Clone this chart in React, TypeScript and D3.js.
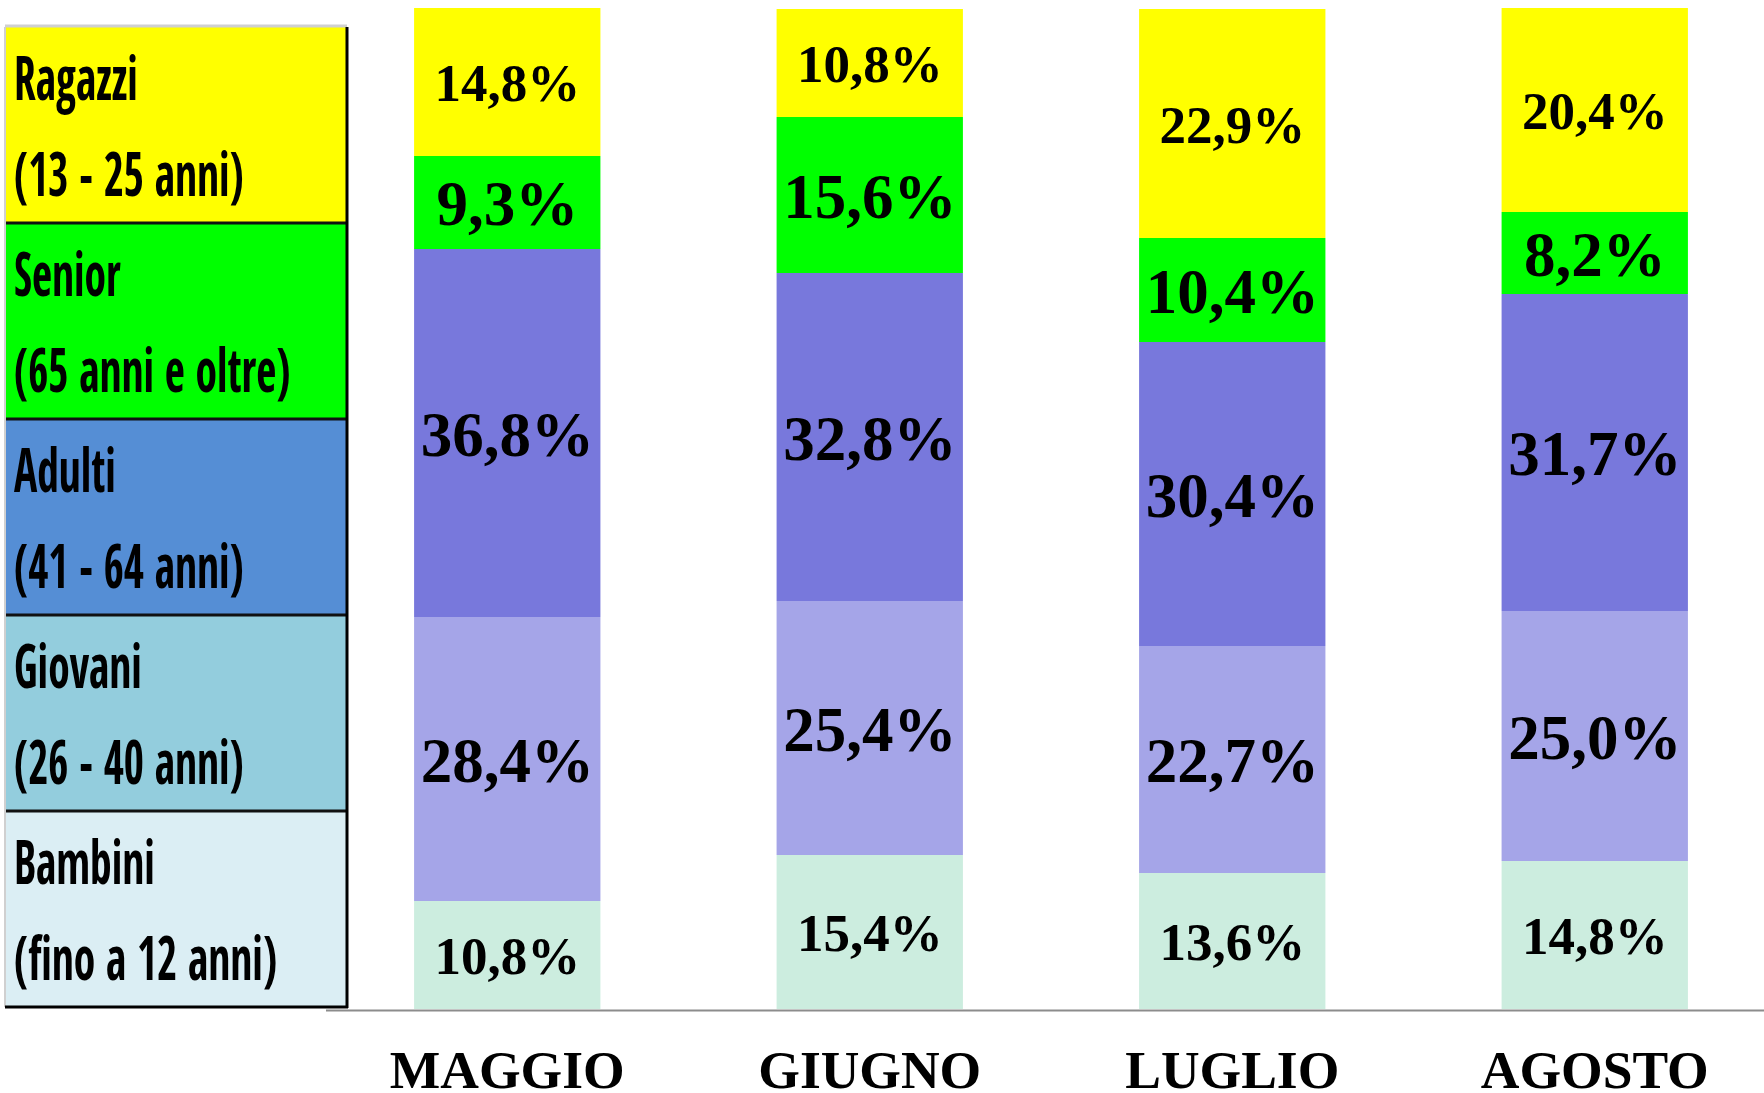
import React from 'react';
import * as d3 from 'd3';

const months = ['MAGGIO', 'GIUGNO', 'LUGLIO', 'AGOSTO'];
const seriesKeys = ['Bambini', 'Giovani', 'Adulti', 'Senior', 'Ragazzi'];
const bambini = [10.8, 15.4, 13.6, 14.8];
const giovani = [28.4, 25.4, 22.7, 25.0];
const adulti = [36.8, 32.8, 30.4, 31.7];
const senior = [9.3, 15.6, 10.4, 8.2];
const ragazzi = [14.8, 10.8, 22.9, 20.4];

const legendItems = ['Ragazzi', 'Senior', 'Adulti', 'Giovani', 'Bambini'];
const legendSub = ['(13 - 25 anni)', '(65 anni e oltre)', '(41 - 64 anni)', '(26 - 40 anni)', '(fino a 12 anni)'];
const legendColors = ['#FFFF00', '#00FF00', '#558ED5', '#93CDDD', '#DBEEF4'];

const barColors: Record<string, string> = {
  Bambini: '#CCEDDF',
  Giovani: '#A5A5E8',
  Adulti: '#7878DC',
  Senior: '#00FF00',
  Ragazzi: '#FFFF00',
};
const labelSize: Record<string, number> = {
  Bambini: 53,
  Giovani: 63,
  Adulti: 63,
  Senior: 63,
  Ragazzi: 53,
};

const W = 1764;
const H = 1093;
const SERIF = 'Liberation Serif';
const LEGEND_FONT = 'Open Sans Condensed';

export default function App() {
  const seriesArrays: Record<string, number[]> = { Bambini: bambini, Giovani: giovani, Adulti: adulti, Senior: senior, Ragazzi: ragazzi };
  const rows = months.map((m, i) => {
    const r: any = { month: m };
    seriesKeys.forEach((k) => (r[k] = seriesArrays[k][i]));
    return r;
  });
  const stacked = d3.stack<any>().keys(seriesKeys)(rows);

  const x = d3.scaleBand<string>().domain(months).range([326, 1776]).paddingInner(0.486).paddingOuter(0.243);
  const y = d3.scaleLinear().domain([0, 100]).range([1009, 9]);

  const fmt = (v: number) => v.toFixed(1).replace('.', ',') + '%';

  const legTop = 27;
  const legBottom = 1007;
  const legLeft = 5;
  const legRight = 347;
  const itemH = (legBottom - legTop) / legendItems.length;

  return (
    <div style={{ position: 'absolute', left: 0, top: 0 }}>
      <svg width={W} height={H} style={{ display: 'block', background: '#fff' }}>
        {/* Legend */}
        <g>
          {legendItems.map((name, i) => {
            const top = legTop + i * itemH;
            return (
              <g key={name}>
                <rect x={legLeft} y={top} width={legRight - legLeft} height={itemH} fill={legendColors[i]} />
                <text
                  transform={`translate(${legLeft + 9},${top + 73}) scale(1,1.42)`}
                  fontFamily={LEGEND_FONT}
                  fontWeight="bold"
                  fontSize={43.5}
                  fill="#000"
                >
                  {name}
                </text>
                <text
                  transform={`translate(${legLeft + 9},${top + 169}) scale(1,1.42)`}
                  fontFamily={LEGEND_FONT}
                  fontWeight="bold"
                  fontSize={43.5}
                  fill="#000"
                >
                  {legendSub[i]}
                </text>
              </g>
            );
          })}
          {legendItems.slice(1).map((name, i) => {
            const yy = legTop + (i + 1) * itemH;
            return <line key={'sep' + name} x1={legLeft} x2={legRight} y1={yy} y2={yy} stroke="#111" strokeWidth={3} />;
          })}
          <line x1={legLeft} x2={legRight} y1={legTop - 1} y2={legTop - 1} stroke="#d0d0d0" strokeWidth={3} />
          <line x1={legLeft} x2={legLeft} y1={legTop} y2={legBottom} stroke="#d0d0d0" strokeWidth={2} />
          <line x1={legRight} x2={legRight} y1={legTop} y2={legBottom + 1} stroke="#000" strokeWidth={3} />
          <line x1={legLeft} x2={legRight + 1} y1={legBottom} y2={legBottom} stroke="#000" strokeWidth={3} />
        </g>

        {/* Bars */}
        {stacked.map((s) => (
          <g key={s.key}>
            {s.map((d, i) => {
              const m = months[i];
              const x0 = x(m)!;
              const y0 = y(d[1]);
              const y1 = y(d[0]);
              return (
                <rect key={m} x={x0} y={y0} width={x.bandwidth()} height={y1 - y0} fill={barColors[s.key]} />
              );
            })}
          </g>
        ))}
        {stacked.map((s) => (
          <g key={'lab' + s.key}>
            {s.map((d, i) => {
              const m = months[i];
              const cx = x(m)! + x.bandwidth() / 2;
              const cy = (y(d[1]) + y(d[0])) / 2;
              const fs = labelSize[s.key];
              return (
                <text
                  key={m}
                  x={cx}
                  y={cy + fs * 0.36}
                  textAnchor="middle"
                  fontFamily={SERIF}
                  fontWeight="bold"
                  fontSize={fs}
                  fill="#000"
                >
                  {fmt(d[1] - d[0])}
                </text>
              );
            })}
          </g>
        ))}

        {/* Axis */}
        <line x1={326} x2={W} y1={1010.5} y2={1010.5} stroke="#8c8c8c" strokeWidth={2} />
        {months.map((m) => (
          <text
            key={m}
            x={x(m)! + x.bandwidth() / 2}
            y={1088}
            textAnchor="middle"
            fontFamily={SERIF}
            fontWeight="bold"
            fontSize={53.5}
            fill="#000"
          >
            {m}
          </text>
        ))}
      </svg>
    </div>
  );
}
